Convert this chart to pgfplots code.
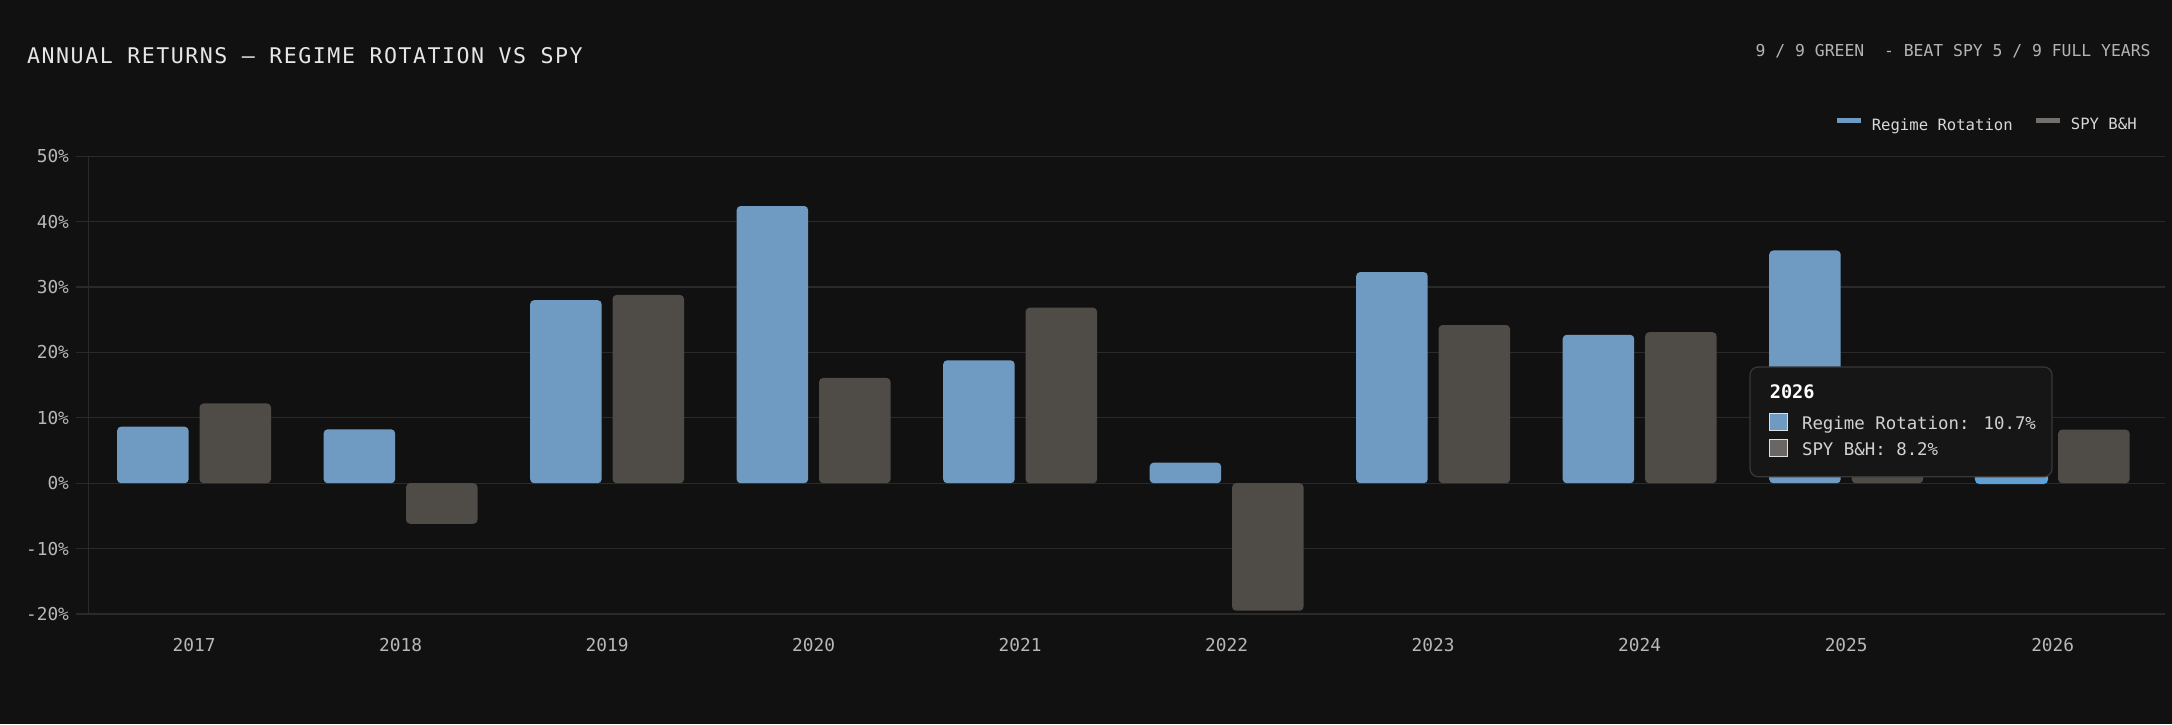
\documentclass[border=0pt]{standalone}
\usepackage{fontspec}
\setmainfont{DejaVu Sans Mono}
\newfontfamily\titlefont[LetterSpace=7]{DejaVu Sans Mono}
\usepackage{pgfplots}
\usepackage{pgfplotstable}
\pgfplotsset{compat=1.18}
\definecolor{bg}{HTML}{111111}
\definecolor{gridc}{HTML}{2A2A2A}
\definecolor{rrblue}{HTML}{6F9BC2}
\definecolor{spyg}{HTML}{4F4B47}
\definecolor{tickc}{HTML}{B8B8B8}
\definecolor{titlec}{HTML}{E6E6E6}
\definecolor{subc}{HTML}{B4B4B4}
\definecolor{legc}{HTML}{D8D8D8}
\definecolor{tipbg}{HTML}{161616}
\definecolor{tipbd}{HTML}{383838}
\definecolor{tiptx}{HTML}{D2D2D2}
\definecolor{hover}{HTML}{4EA6EA}

\pgfplotstableread{
x rr spy
0 8.65 12.2
1 8.25 -6.2
2 28.0 28.8
3 42.4 16.1
4 18.8 26.85
5 3.15 -19.5
6 32.3 24.2
7 22.7 23.1
8 35.6 16.4
9 10.7 8.2
}\returns

\begin{document}
\begin{tikzpicture}
\fill[bg] (0,0) rectangle (1086pt,362pt);
\useasboundingbox (0,0) rectangle (1086pt,362pt);
\begin{axis}[
  at={(44pt,55pt)}, anchor=south west,
  scale only axis, width=1032.5pt, height=228.85pt,
  xmin=-0.5136, xmax=9.4864, ymin=-20, ymax=50,
  axis line style={draw=none},
  xtick={0,...,9},
  xticklabels={2017,2018,2019,2020,2021,2022,2023,2024,2025,2026},
  xtick style={draw=none},
  ytick={-20,-10,0,10,20,30,40,50},
  yticklabels={-20\%,-10\%,0\%,10\%,20\%,30\%,40\%,50\%},
  ytick style={draw=gridc, line width=0.6pt},
  tick align=outside, major tick length=6pt,
  ymajorgrids, grid style={draw=gridc, line width=0.6pt},
  tick label style={font=\fontsize{8.9}{10}\selectfont, text=tickc},
  xticklabel style={anchor=base, yshift=-12.5pt},
  legend columns=2,
  legend style={at={(rel axis cs:1,1)}, anchor=east, xshift=-8.25pt, yshift=15.5pt,
    draw=none, fill=none, inner sep=0pt, outer sep=0pt,
    font=\fontsize{7.8}{9}\selectfont, text=legc,
    nodes={inner sep=0pt},
    /tikz/every odd column/.append style={column sep=5.6pt},
    /tikz/every even column/.append style={column sep=11.5pt}},
]
\draw[gridc, line width=0.6pt] (rel axis cs:0,0) -- (rel axis cs:0,1);
\addplot[ybar, bar width=35.75pt, bar shift=-20.6pt, fill=rrblue, draw=none, rounded corners=2pt,
  legend image code/.code={\fill[rrblue, sharp corners] (0pt,1.55pt) rectangle (12pt,4.05pt);}]
  table[x=x, y=rr] {\returns};
\addlegendentry{Regime Rotation}
\addplot[ybar, bar width=35.75pt, bar shift=20.6pt, fill=spyg, draw=none, rounded corners=2pt,
  legend image code/.code={\fill[spyg!80!white, sharp corners] (0pt,1.55pt) rectangle (12pt,4.05pt);}]
  table[x=x, y=spy] {\returns};
\addlegendentry{SPY B\&H}
\addplot[ybar, bar width=35.75pt, bar shift=-20.6pt, fill=rrblue!85!hover, draw=hover, line width=0.9pt, rounded corners=2pt, forget plot]
  coordinates {(9,10.7)};
\end{axis}
\node[anchor=base west, inner sep=0pt, text=titlec, font=\titlefont\fontsize{10.8}{12}\selectfont] at (13.4pt,330.35pt) {ANNUAL RETURNS — REGIME ROTATION VS SPY};
\node[anchor=base east, inner sep=0pt, text=subc, font=\fontsize{8.2}{10}\selectfont] at (1075.5pt,333.5pt) {9 / 9 GREEN\ \ - BEAT SPY 5 / 9 FULL YEARS};
% tooltip
\fill[tipbg, rounded corners=4pt] (875pt,123.65pt) rectangle (1026pt,178.5pt);
\draw[tipbd, line width=0.6pt, rounded corners=4pt] (875pt,123.65pt) rectangle (1026pt,178.5pt);
\node[anchor=base west, inner sep=0pt, text=white, font=\bfseries\fontsize{9.3}{11}\selectfont] at (884.7pt,162.85pt) {2026};
\filldraw[fill=rrblue, draw=white!88!black, line width=0.6pt] (884.9pt,146.7pt) rectangle (893.6pt,155.2pt);
\node[anchor=base west, inner sep=0pt, text=tiptx, font=\fontsize{8.7}{10}\selectfont] at (900.8pt,147.3pt) {Regime Rotation: 10.7\%};
\filldraw[fill=spyg!85!white, draw=white!88!black, line width=0.6pt] (884.9pt,133.85pt) rectangle (893.6pt,142.35pt);
\node[anchor=base west, inner sep=0pt, text=tiptx, font=\fontsize{8.7}{10}\selectfont] at (900.8pt,134.5pt) {SPY B\&H: 8.2\%};
\end{tikzpicture}
\end{document}
